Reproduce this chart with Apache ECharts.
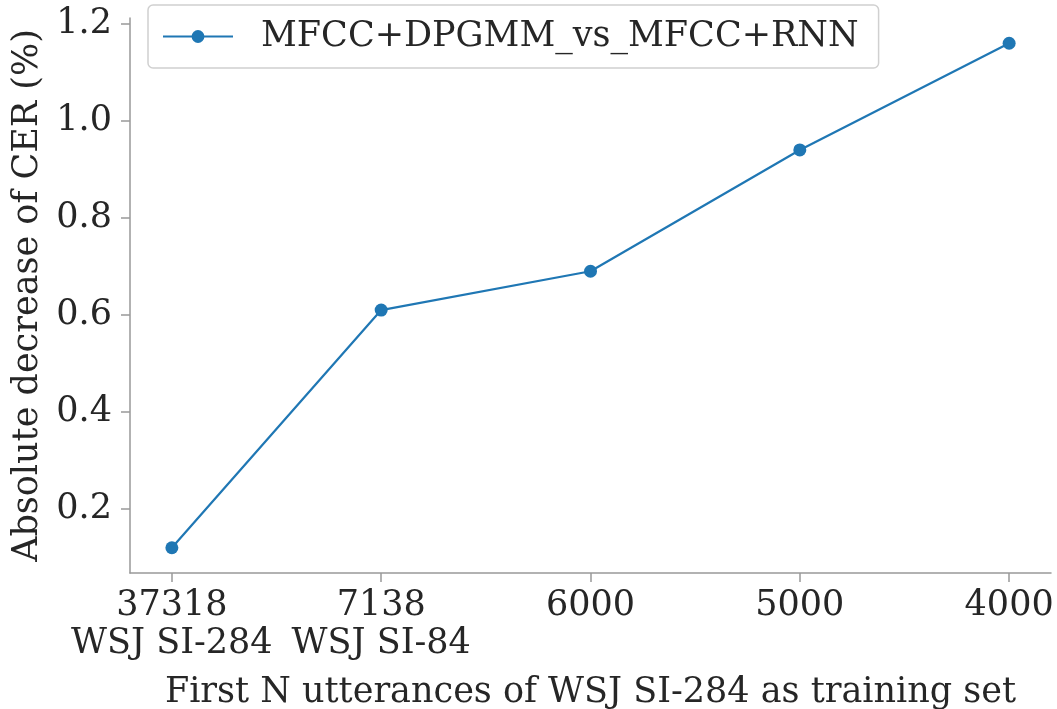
<!DOCTYPE html>
<html>
<head>
<meta charset="utf-8">
<script src="https://cdn.jsdelivr.net/npm/echarts@6/dist/echarts.min.js"></script>
<style>
html,body{margin:0;padding:0;background:#fff;}
#c{width:1057px;height:709px;}
</style>
</head>
<body>
<div id="c"></div>
<script>
const categories = ['37318\nWSJ SI-284', '7138\nWSJ SI-84', '6000', '5000', '4000'];
const seriesName = 'MFCC+DPGMM_vs_MFCC+RNN';
const values = [0.12, 0.61, 0.69, 0.94, 1.16];
const yTicks = [0.2, 0.4, 0.6, 0.8, 1.0, 1.2];
const xTicks = [0, 1, 2, 3, 4];

const FONT = 'DejaVu Serif';
const TXT = '#262626';
const FS = 35;

const chart = echarts.init(document.getElementById('c'), null, {renderer: 'canvas'});
chart.setOption({
  animation: false,
  backgroundColor: '#fff',
  textStyle: {fontFamily: FONT, color: TXT},
  grid: {left: 130, right: 6, top: 18, bottom: 136, containLabel: false, outerBoundsMode: 'none'},
  legend: {
    left: 148, top: 5,
    padding: [14, 20, 14, 14],
    itemWidth: 70, itemHeight: 16, itemGap: 10,
    borderColor: '#d0d0d0', borderWidth: 1.5, borderRadius: 5,
    textStyle: {fontFamily: FONT, fontSize: FS, color: TXT, padding: [0, 0, 0, 23]},
    data: [seriesName]
  },
  xAxis: {
    type: 'value', min: -0.2, max: 4.2,
    name: 'First N utterances of WSJ SI-284 as training set',
    nameLocation: 'middle', nameGap: 102,
    nameTextStyle: {fontFamily: FONT, fontSize: FS, color: TXT},
    axisLine: {show: true, onZero: false, lineStyle: {color: '#999', width: 1.5}},
    axisTick: {show: true, length: 9, lineStyle: {color: '#999', width: 1.5}, customValues: xTicks},
    axisLabel: {
      customValues: xTicks,
      fontFamily: FONT, fontSize: FS, color: TXT, margin: 14, lineHeight: 38,
      formatter: v => categories[Math.round(v)]
    },
    splitLine: {show: false}
  },
  yAxis: {
    type: 'value', min: 0.068, max: 1.212,
    name: 'Absolute decrease of CER (%)',
    nameLocation: 'middle', nameGap: 85,
    nameTextStyle: {fontFamily: FONT, fontSize: FS, color: TXT},
    axisLine: {show: true, onZero: false, lineStyle: {color: '#999', width: 1.5}},
    axisTick: {show: true, length: 9, lineStyle: {color: '#999', width: 1.5}, customValues: yTicks},
    axisLabel: {
      customValues: yTicks,
      fontFamily: FONT, fontSize: FS, color: TXT, margin: 18,
      formatter: v => v.toFixed(1)
    },
    splitLine: {show: false}
  },
  series: [{
    name: seriesName,
    type: 'line',
    data: values.map((v, i) => [xTicks[i], v]),
    symbol: 'circle', symbolSize: 13,
    lineStyle: {color: '#1f77b4', width: 2.2},
    itemStyle: {color: '#1f77b4'}
  }]
});
</script>
</body>
</html>
